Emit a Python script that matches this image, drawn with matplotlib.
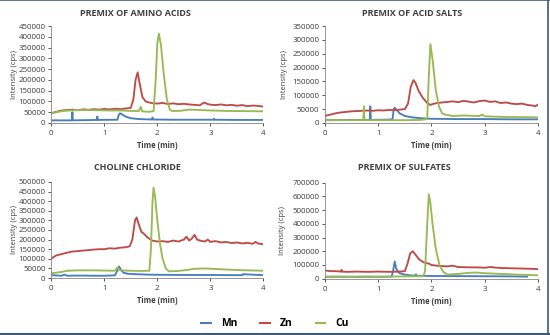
import matplotlib
matplotlib.use("Agg")
import matplotlib.pyplot as plt
from matplotlib.lines import Line2D

plt.rcParams["font.family"] = ["Open Sans", "DejaVu Sans"]

# colours (Excel-like defaults)
C_MN, C_ZN, C_CU = "#4a7ebb", "#be4b48", "#98b954"

# ---- data, intensities in kcps ----
# premix of amino acids
mn_a_t = [0, 0.39, 0.40, 0.41, 0.86, 0.87, 0.88, 1.25, 1.27, 1.30, 1.40, 1.50, 1.65,
          1.90, 1.91, 1.92, 2.3, 3.06, 3.07, 3.08, 3.5, 4.0]
mn_a = [12, 12, 50, 12, 14, 30, 14, 15, 35, 45, 30, 22, 18, 16, 25, 16, 15, 15, 20, 15, 14, 14]
zn_a_t = [0, 0.1, 0.2, 0.3, 0.4, 0.5, 0.6, 0.7, 0.8, 0.9, 1.0, 1.1, 1.2, 1.3, 1.4, 1.5, 1.55,
          1.59, 1.63, 1.67, 1.72, 1.78, 1.85, 1.9, 2.0, 2.1, 2.2, 2.3, 2.4, 2.5, 2.6, 2.7, 2.8,
          2.88, 2.95, 3.0, 3.1, 3.2, 3.3, 3.4, 3.5, 3.6, 3.7, 3.8, 3.9, 4.0]
zn_a = [45, 52, 58, 60, 62, 59, 63, 61, 64, 62, 65, 63, 66, 64, 67, 70, 110, 200, 235, 180,
        120, 100, 95, 92, 90, 93, 88, 91, 87, 89, 86, 84, 82, 95, 88, 85, 83, 86, 82, 84, 80,
        83, 78, 81, 79, 76]
cu_a_t = [0, 0.1, 0.2, 0.3, 0.5, 0.7, 0.9, 1.1, 1.3, 1.5, 1.65, 1.69, 1.71, 1.75, 1.85, 1.93,
          1.97, 2.0, 2.03, 2.07, 2.12, 2.18, 2.24, 2.3, 2.45, 2.6, 2.8, 3.0, 3.3, 3.6, 4.0]
cu_a = [45, 50, 55, 57, 60, 60, 59, 58, 58, 56, 55, 75, 55, 53, 52, 55, 200, 370, 415, 360,
        230, 110, 60, 55, 57, 62, 60, 58, 56, 55, 54]

# premix of acid salts
mn_b_t = [0, 0.5, 0.84, 0.85, 0.86, 1.2, 1.27, 1.29, 1.31, 1.4, 1.5, 1.65, 1.8, 2.0, 2.5,
          3.0, 3.5, 4.0]
mn_b = [10, 11, 11, 60, 11, 12, 14, 50, 55, 35, 25, 20, 17, 15, 14, 14, 13, 13]
zn_b_t = [0, 0.05, 0.1, 0.2, 0.3, 0.4, 0.5, 0.6, 0.7, 0.8, 0.9, 1.0, 1.1, 1.2, 1.3, 1.4, 1.5,
          1.56, 1.61, 1.66, 1.7, 1.76, 1.84, 1.92, 1.98, 2.05, 2.15, 2.3, 2.4, 2.5, 2.6, 2.7,
          2.8, 2.9, 3.0, 3.1, 3.2, 3.3, 3.4, 3.5, 3.6, 3.7, 3.8, 3.9, 3.95, 4.0]
zn_b = [25, 28, 30, 35, 38, 40, 42, 43, 44, 45, 44, 46, 45, 47, 46, 48, 50, 70, 130, 155, 145,
        115, 90, 72, 65, 70, 73, 76, 78, 75, 80, 77, 74, 79, 81, 76, 78, 72, 74, 70, 68, 70,
        65, 63, 60, 66]
cu_b_t = [0, 0.5, 0.72, 0.73, 0.74, 1.0, 1.2, 1.5, 1.8, 1.92, 1.95, 1.98, 2.02, 2.08, 2.14,
          2.2, 2.26, 2.4, 2.6, 2.9, 2.95, 3.0, 3.3, 3.7, 4.0]
cu_b = [10, 10, 10, 60, 10, 10, 10, 10, 11, 14, 170, 285, 230, 120, 60, 35, 30, 25, 27, 25,
        30, 24, 22, 21, 20]

# choline chloride
mn_c_t = [0, 0.2, 0.25, 0.3, 0.5, 0.8, 1.0, 1.2, 1.25, 1.28, 1.31, 1.36, 1.45, 1.6, 1.8,
          2.0, 2.5, 3.0, 3.5, 3.6, 3.61, 4.0]
mn_c = [15, 12, 18, 12, 13, 12, 12, 14, 40, 60, 45, 28, 22, 20, 18, 17, 16, 16, 15, 15, 20, 15]
zn_c_t = [0, 0.05, 0.1, 0.2, 0.3, 0.4, 0.5, 0.6, 0.7, 0.8, 0.9, 1.0, 1.1, 1.2, 1.3, 1.4,
          1.48, 1.53, 1.58, 1.61, 1.65, 1.7, 1.75, 1.8, 1.85, 1.9, 2.0, 2.1, 2.2, 2.3, 2.4,
          2.5, 2.55, 2.6, 2.65, 2.7, 2.75, 2.8, 2.9, 2.95, 3.0, 3.1, 3.2, 3.3, 3.4, 3.5, 3.6,
          3.7, 3.8, 3.85, 3.9, 4.0]
zn_c = [100, 110, 118, 125, 132, 138, 140, 143, 145, 148, 150, 150, 155, 153, 158, 160, 165,
        200, 300, 315, 280, 240, 230, 215, 205, 195, 190, 192, 188, 195, 190, 200, 215, 195,
        205, 225, 200, 195, 190, 200, 188, 192, 185, 188, 182, 185, 180, 183, 178, 188, 180, 175]
cu_c_t = [0, 0.1, 0.2, 0.3, 0.5, 0.8, 1.0, 1.2, 1.25, 1.3, 1.5, 1.7, 1.85, 1.88, 1.91, 1.93,
          1.96, 2.0, 2.05, 2.1, 2.16, 2.22, 2.35, 2.5, 2.7, 2.9, 3.1, 3.4, 3.7, 4.0]
cu_c = [25, 28, 32, 38, 40, 40, 39, 38, 55, 40, 38, 37, 38, 150, 400, 470, 420, 300, 180,
        100, 50, 35, 36, 40, 48, 50, 47, 43, 40, 38]

# premix of sulfates
mn_d_t = [0, 0.5, 1.0, 1.25, 1.28, 1.31, 1.34, 1.4, 1.5, 1.6, 1.7, 1.71, 1.72, 2.0, 2.5,
          3.0, 3.5, 3.8]
mn_d = [15, 14, 14, 15, 60, 125, 70, 40, 30, 25, 22, 32, 22, 20, 19, 18, 17, 15]
zn_d_t = [0, 0.1, 0.2, 0.3, 0.31, 0.32, 0.4, 0.6, 0.8, 1.0, 1.2, 1.4, 1.5, 1.55, 1.6, 1.65,
          1.7, 1.77, 1.85, 1.95, 2.0, 2.1, 2.2, 2.3, 2.4, 2.5, 2.7, 2.9, 3.0, 3.1, 3.3, 3.5,
          3.7, 3.9, 4.0]
zn_d = [60, 55, 55, 52, 65, 52, 50, 52, 50, 52, 50, 52, 55, 110, 185, 200, 175, 140, 120,
        110, 100, 95, 92, 90, 95, 85, 83, 82, 80, 85, 78, 76, 74, 72, 70]
cu_d_t = [0, 0.2, 0.5, 0.8, 1.0, 1.3, 1.5, 1.7, 1.85, 1.88, 1.92, 1.95, 1.98, 2.02, 2.08,
          2.15, 2.22, 2.3, 2.5, 2.7, 2.85, 3.0, 3.3, 3.6, 4.0]
cu_d = [12, 15, 14, 16, 15, 16, 17, 18, 18, 60, 400, 615, 550, 400, 220, 100, 50, 30, 35,
        43, 45, 40, 35, 30, 25]

titles = ["PREMIX OF AMINO ACIDS", "PREMIX OF ACID SALTS",
          "CHOLINE CHLORIDE", "PREMIX OF SULFATES"]
ymax = [450000, 350000, 500000, 700000]
ystep = [50000, 50000, 50000, 100000]

panels = [
    ((mn_a_t, mn_a), (zn_a_t, zn_a), (cu_a_t, cu_a)),
    ((mn_b_t, mn_b), (zn_b_t, zn_b), (cu_b_t, cu_b)),
    ((mn_c_t, mn_c), (zn_c_t, zn_c), (cu_c_t, cu_c)),
    ((mn_d_t, mn_d), (zn_d_t, zn_d), (cu_d_t, cu_d)),
]

# axes boxes [left, bottom, width, height] and title x positions
boxes = [[0.093, 0.633, 0.386, 0.289], [0.591, 0.633, 0.387, 0.289],
         [0.093, 0.170, 0.386, 0.287], [0.591, 0.168, 0.387, 0.287]]
title_x = [0.247, 0.749, 0.249, 0.736]
title_y = [0.961, 0.961, 0.501, 0.501]
ylab_x = [0.026, 0.518, 0.026, 0.513]

fig = plt.figure(figsize=(5.5, 3.35), dpi=100)
grey = "#868686"

for i, (box, series) in enumerate(zip(boxes, panels)):
    ax = fig.add_axes(box)
    for (t, v), c in zip(series, [C_MN, C_ZN, C_CU]):
        ax.plot(t, [x * 1000 for x in v], color=c, lw=1.35)
    ax.set_xlim(0, 4)
    ax.set_ylim(0, ymax[i])
    ax.set_xticks([0, 1, 2, 3, 4])
    ax.set_yticks(range(0, ymax[i] + 1, ystep[i]))
    ax.tick_params(labelsize=5.7, colors="#3a3a3a", length=2, width=0.6, pad=2)
    ax.tick_params(axis="x", pad=3)
    for s in ["top", "right"]:
        ax.spines[s].set_visible(False)
    for s in ["left", "bottom"]:
        ax.spines[s].set_color(grey)
        ax.spines[s].set_linewidth(0.6)
    ax.set_xlabel("Time (min)", fontsize=5.5, fontweight="bold", color="#404040", labelpad=3)
    fig.text(ylab_x[i], box[1] + box[3] / 2, "Intensity (cps)", rotation=90, fontsize=5.5,
             color="#404040", ha="center", va="center")
    fig.text(title_x[i], title_y[i], titles[i], fontsize=6.5, fontweight="bold",
             color="#404040", ha="center", va="center")

handles = [Line2D([], [], color=c, lw=1.5) for c in [C_MN, C_ZN, C_CU]]
fig.legend(handles, ["Mn", "Zn", "Cu"], loc="center", bbox_to_anchor=(0.5, 0.033), ncol=3,
           frameon=False, handlelength=0.9, columnspacing=2.2, handletextpad=1.0,
           prop={"weight": "bold", "size": 7.5})

# dark frame lines around the image
frame = "#3d5a78"
fig.add_artist(Line2D([0, 1], [0.999, 0.999], color=frame, lw=1.2, transform=fig.transFigure))
fig.add_artist(Line2D([0, 1], [0.004, 0.004], color=frame, lw=1.5, transform=fig.transFigure))
fig.add_artist(Line2D([0.997, 0.997], [0, 1], color=frame, lw=1.2, transform=fig.transFigure))

fig.savefig("out.png", dpi=100)
